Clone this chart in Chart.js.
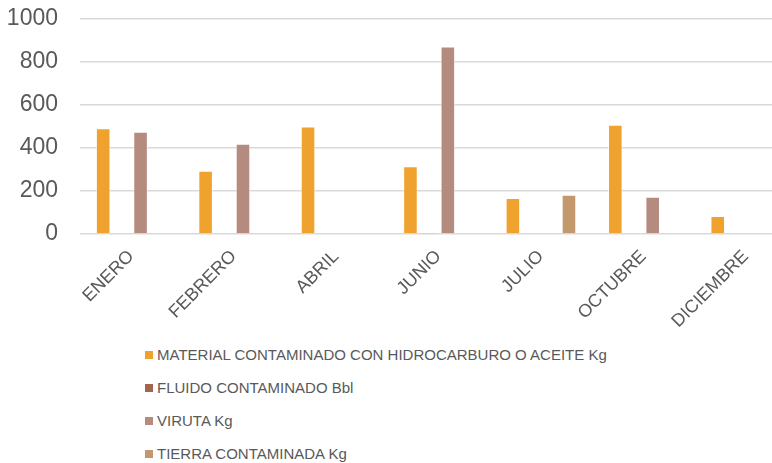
<!DOCTYPE html>
<html>
<head>
<meta charset="utf-8">
<script src="https://cdn.jsdelivr.net/npm/chart.js"></script>
<style>
  html, body { margin: 0; padding: 0; background: #fff; overflow: hidden; }
  #wrap { position: absolute; left: 0; top: -17px; width: 800px; height: 353px; }
  #leyenda { position: absolute; left: 145px; top: 343px; font-family: "Liberation Sans", Arial, sans-serif;
             font-size: 15px; color: #595959; }
  #leyenda div { height: 33px; line-height: 24px; white-space: nowrap; }
  #leyenda span { display: inline-block; width: 8px; height: 8px; margin-right: 4px; vertical-align: 1px; }
</style>
</head>
<body>
<div id="wrap"><canvas id="myChart"></canvas></div>
<div id="leyenda"></div>
<script>
const meses = ["ENERO", "FEBRERO", "ABRIL", "JUNIO", "JULIO", "OCTUBRE", "DICIEMBRE"];
const material = [491, 294, 500, 315, 167, 508, 84];
const fluido = [3, 0, 0, 6, 0, 3, 0];
const viruta = [475, 419, 0, 871, 0, 173, 0];
const tierra = [0, 0, 0, 0, 182, 0, 0];
const nombres = [
  "MATERIAL CONTAMINADO CON HIDROCARBURO O ACEITE Kg",
  "FLUIDO CONTAMINADO Bbl",
  "VIRUTA Kg",
  "TIERRA CONTAMINADA Kg"
];
const colores = ["#F0A22E", "#A5644E", "#B58B80", "#C3986D"];
const yTicks = [0, 200, 400, 600, 800, 1000];

const series = [material, fluido, viruta, tierra];
const fuente = "'Liberation Sans', Arial, sans-serif";

const datasets = series.map((s, i) => ({
  label: nombres[i],
  data: s,
  backgroundColor: colores[i],
  borderColor: "rgba(255,255,255,0.6)",
  borderWidth: 1,
  categoryPercentage: 0.73,
  barPercentage: 0.78
}));

const ctx = document.getElementById("myChart").getContext("2d");
const myChart = new Chart(ctx, {
  type: "bar",
  data: { labels: meses, datasets: datasets },
  options: {
    responsive: true,
    maintainAspectRatio: false,
    animation: false,
    layout: { padding: { left: 7, top: 8, right: 3, bottom: 0 } },
    plugins: { legend: { display: false }, tooltip: { enabled: false } },
    scales: {
      x: {
        grid: { display: false },
        border: { display: false },
        afterFit: (s) => { s.paddingLeft = 0; s.paddingRight = 0; },
        ticks: {
          color: "#595959",
          font: { family: fuente, size: 18 },
          maxRotation: 45,
          minRotation: 45,
          autoSkip: false,
          padding: 4
        }
      },
      y: {
        min: 0,
        max: 1000,
        afterBuildTicks: (axis) => { axis.ticks = yTicks.map((v) => ({ value: v })); },
        afterFit: (s) => { s.width = 73; },
        grid: { color: "#d9d9d9", lineWidth: 1.5, drawTicks: false },
        border: { display: false },
        ticks: {
          color: "#595959",
          font: { family: fuente, size: 23 },
          padding: 22,
          callback: (v) => String(v)
        }
      }
    }
  }
});

const leyenda = document.getElementById("leyenda");
nombres.forEach((n, i) => {
  const fila = document.createElement("div");
  fila.innerHTML = `<span style="background:${colores[i]}"></span>${n}`;
  leyenda.appendChild(fila);
});
</script>
</body>
</html>
